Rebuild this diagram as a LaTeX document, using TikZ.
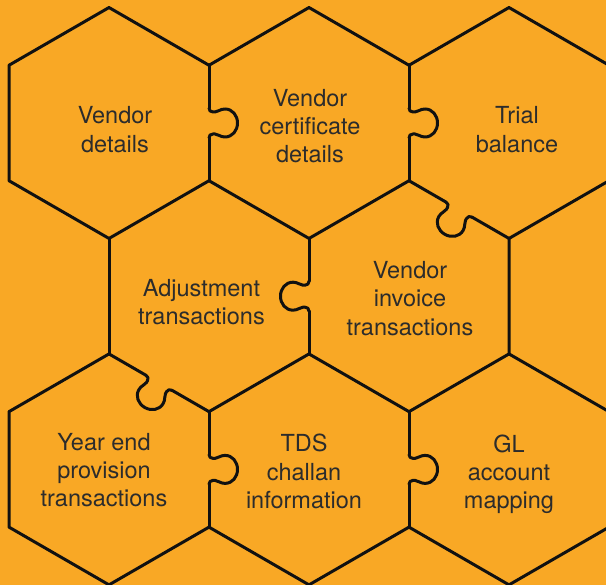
\documentclass[tikz,border=0pt]{standalone}
\usepackage{fontspec}
\setmainfont{TeX Gyre Heros}
\usetikzlibrary{calc}

\definecolor{honey}{HTML}{F9A825}
\definecolor{ink}{HTML}{111111}
\definecolor{labelgrey}{HTML}{2C2C2C}

\tikzset{
  cell/.style={draw=ink, line width=3pt, line join=round, line cap=round},
  caption/.style={align=center, text=labelgrey, inner sep=0pt,
    font=\fontsize{23.5}{28.3}\selectfont},
  % jigsaw knob along the local x axis, bulging to the right of travel
  pics/knob/.style={code={
    \draw[cell] (-15,0) .. controls (-12.5,0) and (-11,-1.5) .. (-11,-4)
      -- (-11,-6)
      .. controls (-11,-9) and (-14,-11) .. (-14,-16)
      .. controls (-14,-23.5) and (-7.5,-28.5) .. (0,-28.5)
      .. controls (7.5,-28.5) and (14,-23.5) .. (14,-16)
      .. controls (14,-11) and (11,-9) .. (11,-6)
      -- (11,-4)
      .. controls (11,-1.5) and (12.5,0) .. (15,0);
  }}
}

% corners of a pointy-top hexagon: name, centre x, centre y
\newcommand\hexcorners[3]{%
  \coordinate (#1-t)  at (#2, #3+115.47);
  \coordinate (#1-ur) at (#2+100, #3+57.735);
  \coordinate (#1-lr) at (#2+100, #3-57.735);
  \coordinate (#1-b)  at (#2, #3-115.47);
  \coordinate (#1-ll) at (#2-100, #3-57.735);
  \coordinate (#1-ul) at (#2-100, #3+57.735);
}

% shared side with a knob in its middle: from, to, direction angle
\newcommand\knobedge[3]{%
  \coordinate (kmid) at ($(#1)!0.5!(#2)$);
  \draw[cell] (#1) -- ($(kmid)!15pt!(#1)$);
  \draw[cell] ($(kmid)!15pt!(#2)$) -- (#2);
  \pic[rotate=#3] at (kmid) {knob};
}

\begin{document}
\begin{tikzpicture}[x=1pt, y=1pt]
  \fill[honey] (0,0) rectangle (606,585);
  \useasboundingbox (0,0) rectangle (606,585);
  \clip (0,0) rectangle (606,585);

  \hexcorners{A}{109}{462}
  \hexcorners{B}{309}{462}
  \hexcorners{C}{509}{462}
  \hexcorners{D}{209}{288.8}
  \hexcorners{E}{409}{288.8}
  \hexcorners{F}{109}{115.6}
  \hexcorners{G}{309}{115.6}
  \hexcorners{H}{509}{115.6}

  % plain sides
  \draw[cell] (A-lr) -- (A-b) -- (A-ll) -- (A-ul) -- (A-t) -- (A-ur);
  \draw[cell] (A-ur) -- (B-t) -- (B-ur);
  \draw[cell] (B-lr) -- (B-b) -- (A-lr);
  \draw[cell] (B-ur) -- (C-t) -- (C-ur) -- (C-lr) -- (C-b);
  \draw[cell] (A-b) -- (D-ll);
  \draw[cell] (D-b) -- (D-lr);
  \draw[cell] (C-b) -- (E-lr) -- (E-b) -- (D-lr);
  \draw[cell] (D-ll) -- (F-ul) -- (F-ll) -- (F-b) -- (F-lr);
  \draw[cell] (G-lr) -- (G-b) -- (F-lr);
  \draw[cell] (E-lr) -- (H-ur) -- (H-lr) -- (H-b) -- (G-lr);

  % sides with knobs
  \knobedge{A-lr}{A-ur}{90}
  \knobedge{B-lr}{B-ur}{90}
  \knobedge{C-ll}{C-b}{-30}
  \knobedge{D-ur}{D-lr}{-90}
  \knobedge{D-ll}{D-b}{-30}
  \knobedge{F-lr}{F-ur}{90}
  \knobedge{G-lr}{G-ur}{90}

  % labels
  \node[caption] (vendor)      at (115, 455.5)   {Vendor\\details};
  \node[caption] (certificate) at (310, 458.75)  {Vendor\\certificate\\details};
  \node[caption] (trial)       at (517, 455.5)   {Trial\\balance};
  \node[caption] (adjust)      at (201.5, 282.85){Adjustment\\transactions};
  \node[caption] (invoice)     at (410, 286.45)  {Vendor\\invoice\\transactions};
  \node[caption] (yearend)     at (104, 114.75)  {Year end\\provision\\transactions};
  \node[caption] (tds)         at (304, 113.45)  {TDS\\challan\\information};
  \node[caption] (gl)          at (509, 110.9)   {GL\\account\\mapping};
\end{tikzpicture}
\end{document}
